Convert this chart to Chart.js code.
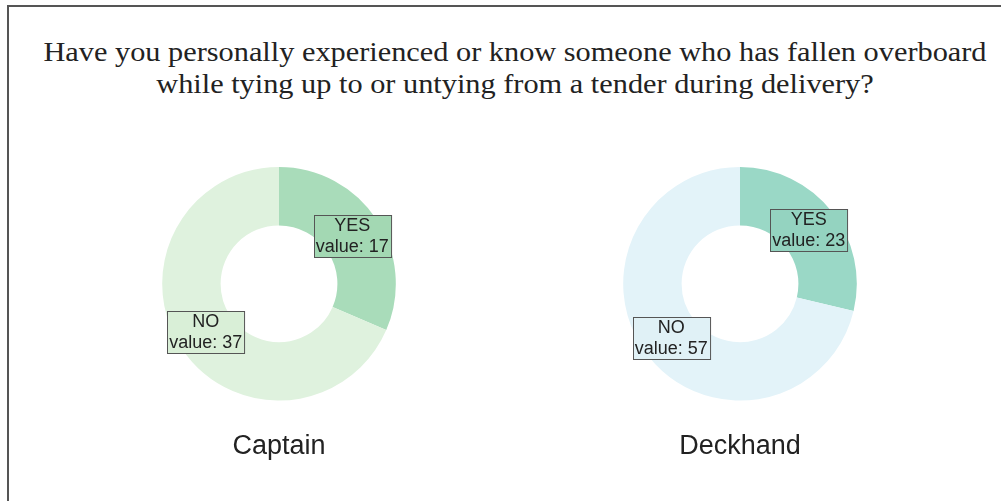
<!DOCTYPE html>
<html>
<head>
<meta charset="utf-8">
<script src="https://cdn.jsdelivr.net/npm/chart.js@4/dist/chart.umd.min.js"></script>
<style>
html,body{margin:0;padding:0;background:#fff;width:1001px;height:501px;overflow:hidden}
#frame{position:absolute;left:7px;top:5px;width:1100px;height:600px;border:2px solid #555;box-sizing:border-box}
#title{position:absolute;left:0;top:36px;width:1030px;text-align:center;font-family:"Liberation Serif","Times New Roman",serif;font-size:28px;line-height:32px;color:#222;transform:scaleX(1.083);transform-origin:515px 0}
canvas{position:absolute}
#captain{left:162px;top:167px}
#deckhand{left:623px;top:167px}
</style>
</head>
<body>
<div id="frame"></div>
<div id="title">Have you personally experienced or know someone who has fallen overboard<br>while tying up to or untying from a tender during delivery?</div>
<canvas id="captain" width="234" height="297"></canvas>
<canvas id="deckhand" width="234" height="297"></canvas>
<script>
const answers = ["YES", "NO"]
const captainValues = [17, 37]
const deckhandValues = [23, 57]

const captainColors = ["#a9dcba", "#dff2de"]
const deckhandColors = ["#9ad8c6", "#e3f3f9"]

// boxed "NAME / value: N" label drawn at the middle of each arc
const boxLabels = {
  id: "boxLabels",
  afterDatasetsDraw(chart){
    const ctx = chart.ctx
    const ds = chart.data.datasets[0]
    ctx.save()
    ctx.font = "18px 'Liberation Sans', Arial, sans-serif"
    ctx.textAlign = "center"
    ctx.textBaseline = "middle"
    chart.getDatasetMeta(0).data.forEach((arc, i)=>{
      const p = arc.getCenterPoint()
      const line1 = chart.data.labels[i]
      const line2 = "value: " + ds.data[i]
      const w = Math.max(ctx.measureText(line1).width, ctx.measureText(line2).width) + 4
      const h = 42
      const x = Math.round(p.x - w/2) + 0.5
      const y = Math.round(p.y - h/2) + 0.5
      ctx.fillStyle = ds.boxColor[i]
      ctx.fillRect(x, y, w, h)
      ctx.strokeStyle = "#555"
      ctx.lineWidth = 1
      ctx.strokeRect(x, y, w, h)
      ctx.fillStyle = "#222"
      ctx.fillText(line1, p.x, p.y - 10)
      ctx.fillText(line2, p.x, p.y + 11)
    })
    ctx.restore()
  }
}

function makeDonut(id, name, values, colors, boxColors){
  return new Chart(document.getElementById(id), {
    type: "doughnut",
    data: {
      labels: answers,
      datasets: [{
        data: values,
        backgroundColor: colors,
        boxColor: boxColors,
        borderWidth: 0,
        hoverOffset: 0
      }]
    },
    options: {
      responsive: false,
      animation: false,
      cutout: "50%",
      layout: { padding: 0 },
      plugins: {
        legend: { display: false },
        tooltip: { enabled: false },
        title: {
          display: true,
          text: name,
          position: "bottom",
          color: "#222",
          font: { family: "'Liberation Sans', Arial, sans-serif", size: 27, weight: "normal", lineHeight: 1.2 },
          padding: { top: 30, bottom: 1 }
        }
      }
    },
    plugins: [boxLabels]
  })
}

makeDonut("captain", "Captain", captainValues, captainColors, ["#a3d8b3", "#d9efd7"])
makeDonut("deckhand", "Deckhand", deckhandValues, deckhandColors, ["#94d3c0", "#e0f1f6"])
</script>
</body>
</html>
